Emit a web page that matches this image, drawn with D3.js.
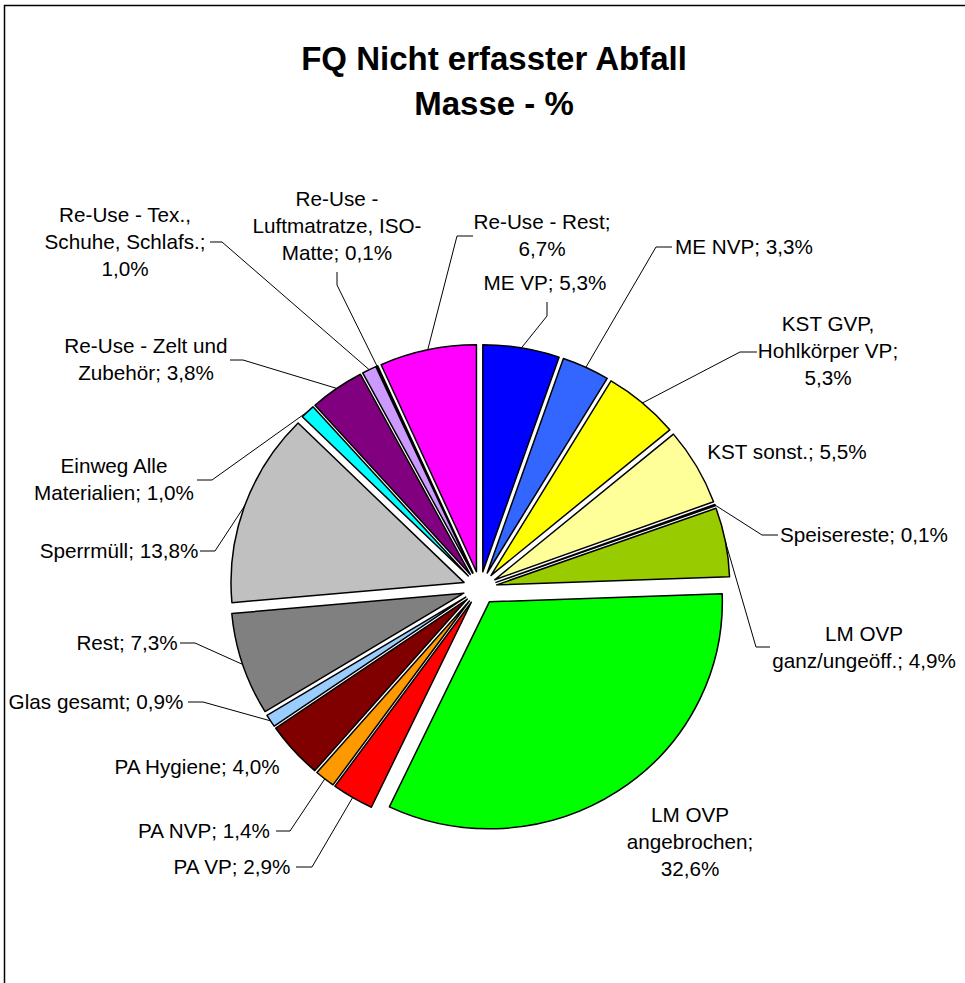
<!DOCTYPE html>
<html>
<head>
<meta charset="utf-8">
<script src="https://cdn.jsdelivr.net/npm/d3@7"></script>
<style>
  body { margin: 0; background: #fff; }
  text { font-family: "Liberation Sans", Arial, sans-serif; fill: #000; }
</style>
</head>
<body>
<div id="chart"></div>
<script>
// data, clockwise from 12 o'clock
const categories = [
    "ME VP", "ME NVP", "KST GVP, Hohlkörper VP", "KST sonst.", "Speisereste",
    "LM OVP ganz/ungeöff.", "LM OVP angebrochen", "PA VP", "PA NVP", "PA Hygiene",
    "Glas gesamt", "Rest", "Sperrmüll", "Einweg Alle Materialien",
    "Re-Use - Zelt und Zubehör", "Re-Use - Tex., Schuhe, Schlafs.",
    "Re-Use - Luftmatratze, ISO-Matte", "Re-Use - Rest"
];
const values = [5.3, 3.3, 5.3, 5.5, 0.1, 4.9, 32.6, 2.9, 1.4, 4.0, 0.9, 7.3, 13.8, 1.0, 3.8, 1.0, 0.1, 6.7];
const colors = [
    "#0000FF", "#3366FF", "#FFFF00", "#FFFF99", "#FFFFCC",
    "#99CC00", "#00FF00", "#FF0000", "#FF9900", "#800000",
    "#99CCFF", "#808080", "#C0C0C0", "#00FFFF",
    "#800080", "#CC99FF", "#FF00FF", "#FF00FF"
];
const titleLines = ["FQ Nicht erfasster Abfall", "Masse - %"];

// label placement: block centre, wrap width, leader start + elbow
const labelLayout = [
    {x: 545, y: 283, wrap: 400, leader: [[547, 302], [547, 316]]},
    {x: 744, y: 247, wrap: 400, leader: [[672, 247], [656, 247]]},
    {x: 828, y: 351, wrap: 150, leader: [[757, 352], [740, 352]]},
    {x: 787, y: 452, wrap: 400, leader: null},
    {x: 864, y: 535, wrap: 400, leader: [[778, 535], [762, 535]]},
    {x: 864, y: 647, wrap: 190, leader: [[770, 647], [756, 647]]},
    {x: 690, y: 842, wrap: 130, leader: null},
    {x: 232, y: 867, wrap: 400, leader: [[296, 867], [312, 867]]},
    {x: 204, y: 831, wrap: 400, leader: [[276, 831], [290, 831]]},
    {x: 197, y: 767, wrap: 400, leader: null},
    {x: 96, y: 702, wrap: 400, leader: [[188, 702], [203, 702]]},
    {x: 127, y: 643, wrap: 400, leader: [[180, 643], [195, 643]]},
    {x: 119, y: 551, wrap: 400, leader: [[200, 551], [215, 551]]},
    {x: 114, y: 479, wrap: 165, leader: [[197, 480], [212, 480]]},
    {x: 146, y: 359, wrap: 170, leader: [[230, 360], [243, 360]]},
    {x: 125, y: 242, wrap: 170, leader: [[210, 242], [222, 242]]},
    {x: 337, y: 226, wrap: 172, leader: [[337, 272], [337, 285]]},
    {x: 542, y: 235, wrap: 150, leader: [[473, 236], [457, 236]]}
];

const width = 965, height = 983;
const cx = 480, cy = 588, radius = 233, explode = 17, squash = 0.974;
const fontSize = 20.7, lineHeight = 27;

const svg = d3.select("#chart")
    .append("svg")
        .attr("width", width)
        .attr("height", height);

// chart frame (runs off the right and bottom)
svg.append("rect")
    .attr("x", 4.5)
    .attr("y", 5.5)
    .attr("width", 1000)
    .attr("height", 1000)
    .attr("fill", "none")
    .attr("stroke", "#000")
    .attr("stroke-width", 1.5);

// title
svg.selectAll(".title")
    .data(titleLines)
    .join("text")
        .attr("class", "title")
        .attr("x", 494)
        .attr("y", (d, i) => 70 + i * 45)
        .attr("text-anchor", "middle")
        .style("font-size", "33px")
        .style("font-weight", "bold")
        .text(d => d);

const data = categories.map((c, i) => ({name: c, value: values[i], color: colors[i], layout: labelLayout[i]}));

const pie = d3.pie()
    .sort(null)
    .value(d => d.value);

const arcs = pie(data);

const arc = d3.arc()
    .innerRadius(0)
    .outerRadius(radius);

const mid = d => (d.startAngle + d.endAngle) / 2;

const pieG = svg.append("g")
    .attr("transform", `translate(${cx},${cy}) scale(1,${squash})`);

pieG.selectAll("path")
    .data(arcs)
    .join("path")
        .attr("d", arc)
        .attr("transform", d => `translate(${explode * Math.sin(mid(d))},${-explode * Math.cos(mid(d))})`)
        .attr("fill", d => d.data.color)
        .attr("stroke", "#000")
        .attr("stroke-width", 1.5)
        .attr("stroke-linejoin", "round")
        .attr("vector-effect", "non-scaling-stroke");

// point on the outer edge of an exploded slice at its mid angle
function edgePoint(d){
    const a = mid(d);
    return [cx + (radius + explode) * Math.sin(a), cy - (radius + explode) * Math.cos(a) * squash];
}

// leader lines
svg.append("g")
    .selectAll("path")
    .data(arcs.filter(d => d.data.layout.leader))
    .join("path")
        .attr("d", d => d3.line()([...d.data.layout.leader, edgePoint(d)]))
        .attr("fill", "none")
        .attr("stroke", "#000")
        .attr("stroke-width", 1);

// word wrap like the spreadsheet label boxes
const ctx = document.createElement("canvas").getContext("2d");
ctx.font = `${fontSize}px "Liberation Sans", Arial, sans-serif`;

function wrapText(text, maxWidth){
    const pieces = text.split(/(?<=\s)|(?<=-)(?=\S)/);
    const lines = [];
    let line = "";
    pieces.forEach(p => {
        const test = line + p;
        if (line && ctx.measureText(test.trimEnd()).width > maxWidth){
            lines.push(line.trimEnd());
            line = p;
        } else {
            line = test;
        }
    });
    lines.push(line.trimEnd());
    return lines;
}

const fmt = v => d3.format(".1f")(v).replace(".", ",") + "%";

const labels = svg.append("g")
    .selectAll("text")
    .data(arcs)
    .join("text")
        .attr("text-anchor", "middle")
        .style("font-size", fontSize + "px");

labels.each(function(d){
    const lay = d.data.layout;
    const lines = wrapText(`${d.data.name}; ${fmt(d.data.value)}`, lay.wrap);
    const y0 = lay.y - (lines.length - 1) * lineHeight / 2 + 7;
    d3.select(this).selectAll("tspan")
        .data(lines)
        .join("tspan")
            .attr("x", lay.x)
            .attr("y", (l, i) => y0 + i * lineHeight)
            .text(l => l);
});
</script>
</body>
</html>
